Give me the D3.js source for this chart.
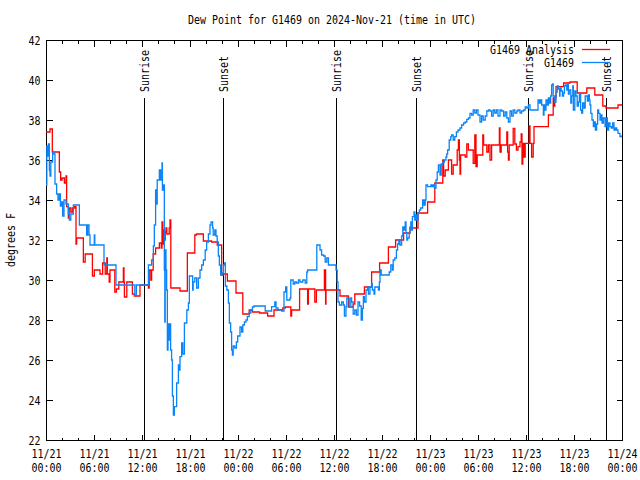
<!DOCTYPE html>
<html><head><meta charset="utf-8">
<script src="https://cdn.jsdelivr.net/npm/d3@7"></script>
<style>html,body{margin:0;padding:0;background:#fff;}</style>
</head><body>
<svg id="chart" width="640" height="480"></svg>
<script>
// ---- data (hours since 2024-11-21 00:00 UTC) ----
const titleText = "Dew Point for G1469 on 2024-Nov-21 (time in UTC)";
const yLabelText = "degrees F";
const yTicks = [22,24,26,28,30,32,34,36,38,40,42];
const seriesNames = ["G1469 Analysis", "G1469"];
const sunEvents = ["Sunrise","Sunset","Sunrise","Sunset","Sunrise","Sunset"];
const sunHours = [12.29, 22.17, 36.25, 46.19, 60.29, 70.05];

const obsHours = [0.0,0.1,0.2,0.3,0.42,0.5,0.6,0.83,1.0,1.125,1.33,1.5,1.67,1.8,1.96,2.08,2.25,2.5,2.67,2.8,2.92,3.1,3.42,4.17,5.08,5.2,5.375,5.5,6.04,6.1,7.25,8.75,11.1,11.3,12.8,13.2,13.42,13.54,13.7,13.85,13.9,14.17,14.33,14.5,14.55,14.7,14.79,14.85,14.9,15.0,15.08,15.17,15.25,15.4,15.5,15.58,15.7,15.8,15.92,16.05,16.33,16.55,16.7,16.75,16.96,17.1,17.3,17.6,17.8,17.92,18.2,18.33,18.4,18.6,18.83,19.04,19.25,19.46,19.67,19.9,20.08,20.3,20.5,20.625,20.83,20.9,21.1,21.25,21.4,21.54,21.67,21.83,22.0,22.17,22.3,22.42,22.6,22.8,22.92,23.08,23.2,23.3,23.4,23.6,23.8,23.96,24.25,24.45,24.6,24.8,25.0,25.17,25.4,25.6,25.8,26.0,27.4,28.2,28.6,28.75,29.0,29.46,29.75,29.96,30.1,30.5,30.6,30.9,31.1,31.3,31.55,31.75,32.1,32.4,32.6,32.7,33.85,34.25,34.45,34.7,34.9,35.1,35.3,36.25,36.4,36.5,36.67,36.96,37.17,37.3,37.5,37.6,37.9,38.1,38.2,38.4,38.6,38.8,39.0,39.2,39.4,39.55,39.67,39.8,40.0,40.2,40.3,40.5,40.7,40.8,41.0,41.1,41.55,41.67,41.75,41.9,42.8,42.9,43.1,43.3,43.4,43.6,43.8,43.95,44.1,44.25,44.45,44.6,44.75,44.9,45.0,45.1,45.2,45.4,45.5,45.6,45.7,45.8,46.0,46.1,46.25,46.4,46.5,46.67,46.83,47.08,47.25,47.4,47.5,47.7,48.1,48.25,48.4,48.55,48.75,48.9,49.05,49.25,49.4,49.6,49.8,50.0,50.1,50.2,50.4,50.6,50.7,50.9,51.1,51.3,51.5,51.75,51.95,52.2,52.4,52.6,52.8,53.0,53.2,53.4,53.6,53.8,54.0,54.25,54.45,54.65,54.9,55.1,55.3,55.5,55.7,55.9,56.1,56.3,56.5,56.75,56.95,57.2,57.4,57.6,57.8,58.0,58.2,58.4,58.6,58.85,59.0,59.25,59.45,59.7,59.9,60.1,60.3,60.5,61.4,61.5,61.67,61.83,61.96,62.17,62.25,62.4,62.5,62.67,62.8,62.92,63.08,63.2,63.33,63.4,63.6,63.75,63.9,64.05,64.2,64.25,64.4,64.55,64.7,64.8,64.96,65.1,65.2,65.3,65.4,65.6,65.7,65.85,65.92,66.1,66.25,66.4,66.55,66.67,66.83,66.96,67.08,67.25,67.4,67.67,67.8,67.92,68.0,68.1,68.25,68.42,68.55,68.67,68.83,68.96,69.08,69.25,69.38,69.5,69.67,69.88,70.0,70.17,70.33,70.5,70.67,70.83,71.0,71.17,71.33,71.5,71.75,72.0];
const obsDew = [34.75,36.7,36.2,36.8,35.5,35.2,35.9,36.4,36.3,34.8,34.3,34.0,34.3,33.7,33.9,33.2,34.0,33.8,33.8,33.3,33.0,33.3,33.75,32.75,32.25,32.75,32.25,31.75,32.25,31.75,30.75,29.75,29.25,29.75,30.75,31.0,31.7,32.75,34.5,33.8,35.0,35.5,35.0,35.85,34.5,34.75,30.5,27.9,31.5,30.5,29.5,26.5,27.8,27.0,27.8,26.5,26.0,24.2,23.25,23.67,24.85,25.75,25.5,26.17,26.85,26.3,27.85,28.5,28.85,30.2,30.2,29.5,29.9,30.1,29.6,30.1,30.5,30.75,31.0,31.5,31.9,32.3,32.75,32.9,32.6,32.25,32.5,32.2,31.9,31.2,30.75,30.25,30.35,30.75,30.85,29.7,29.5,28.85,27.85,27.4,26.5,26.25,26.7,26.6,26.9,27.2,27.65,27.4,27.75,27.9,28.0,28.17,28.35,28.5,28.65,28.7,28.45,28.67,28.9,28.6,28.5,28.45,29.4,29.65,29.0,29.1,30.0,29.8,29.9,29.85,30.0,29.9,30.0,29.85,30.4,30.5,31.75,31.5,31.25,31.2,30.9,31.1,30.75,30.5,29.9,28.9,28.75,28.9,28.75,28.2,28.67,29.1,28.67,29.1,28.9,28.3,28.5,28.25,28.9,28.7,28.0,28.58,29.17,28.9,29.5,29.65,29.3,29.65,29.83,29.5,29.3,29.65,29.5,29.9,30.5,30.25,30.25,30.4,30.75,30.5,31.0,31.1,31.5,31.8,32.0,31.75,32.2,32.65,32.5,32.9,32.35,32.0,32.1,32.35,32.65,32.9,32.5,33.17,33.4,33.0,33.25,33.0,33.35,33.5,33.6,34.0,33.75,34.0,34.75,34.67,34.75,34.67,34.75,34.6,35.0,35.4,35.75,35.25,35.8,35.9,36.0,36.15,36.3,36.5,37.0,37.17,37.25,37.0,37.17,37.4,37.5,37.6,37.75,37.85,37.9,38.03,38.1,38.33,38.25,38.5,38.35,38.5,38.25,37.9,38.2,38.0,38.2,38.45,38.5,38.45,38.2,38.5,38.35,38.5,38.2,38.5,38.45,38.2,38.4,38.1,37.9,38.45,38.2,38.5,38.35,38.45,38.5,38.35,38.45,38.5,38.65,38.6,38.75,38.5,38.5,39.0,38.85,39.0,38.75,38.25,38.75,38.5,39.0,38.75,39.1,38.85,39.2,39.75,39.8,39.2,38.9,39.4,39.7,39.55,39.2,39.6,39.45,39.2,39.35,39.7,39.75,39.5,39.8,39.3,39.5,38.85,39.2,39.7,38.5,39.45,39.2,38.7,38.9,39.3,38.5,38.35,38.85,38.6,39.2,38.95,39.25,39.0,38.75,38.33,38.0,37.67,37.9,37.5,37.8,38.5,38.33,38.0,38.25,37.85,38.1,37.67,38.1,37.5,37.85,37.67,37.6,37.85,37.5,37.6,37.5,37.33,37.17,37.25];

const anaHours = [0.0,0.5,0.79,1.67,1.83,2.0,2.3,2.5,2.58,2.79,2.9,3.1,3.3,3.6,3.75,3.83,4.67,4.9,5.8,6.04,6.75,7.08,7.4,7.6,7.67,7.9,8.0,8.6,8.8,9.1,9.67,9.75,9.8,10.1,10.8,11.04,11.75,12.8,12.9,13.1,13.2,13.4,13.7,14.17,14.4,14.5,14.6,14.7,14.8,14.9,15.0,15.1,15.4,15.5,15.6,16.75,17.67,18.6,18.8,19.67,20.7,21.4,21.96,22.17,22.67,23.75,24.6,25.4,25.8,26.7,27.7,28.5,29.6,29.9,30.6,30.7,31.7,32.7,32.8,33.6,33.8,34.8,34.95,35.0,36.4,36.75,37.8,38.4,38.6,39.8,40.7,41.7,42.8,43.7,44.7,45.5,46.5,47.7,48.6,49.6,49.7,49.9,50.3,50.7,50.9,51.4,51.55,51.67,51.75,51.83,52.4,52.6,52.8,53.4,53.6,53.75,53.9,54.6,54.7,55.1,55.3,55.5,55.7,56.67,56.75,56.9,57.6,57.7,57.8,57.9,58.4,58.6,58.8,59.0,59.25,59.4,59.5,59.6,59.75,59.9,60.4,60.5,60.7,60.9,61.0,62.8,63.4,63.5,63.6,63.75,64.7,65.5,66.4,67.6,68.6,69.6,70.0,71.5,72.0];
const anaDew = [37.4,37.55,36.4,35.4,35.0,35.1,34.85,35.2,33.67,33.1,33.6,33.4,33.6,33.67,31.8,32.1,30.9,31.3,30.2,30.5,30.3,30.85,30.3,31.1,30.3,29.9,30.5,29.4,29.55,29.9,30.6,29.9,29.15,29.9,29.3,29.2,29.75,29.6,30.5,30.0,30.5,31.3,31.6,31.85,31.6,32.9,31.8,32.5,32.0,32.4,32.6,32.3,32.6,33.0,29.6,29.45,31.35,32.25,32.3,31.95,31.9,31.75,30.25,30.3,29.95,29.35,28.3,28.5,28.4,28.35,28.2,28.5,28.6,28.65,28.2,28.5,29.55,28.8,29.55,28.9,29.5,30.5,28.8,29.5,29.5,29.2,28.65,28.8,29.3,29.65,30.4,30.85,31.65,32.0,32.35,32.6,33.35,33.9,34.85,36.0,35.2,35.5,36.0,35.3,35.75,36.5,37.0,36.0,35.3,36.25,36.15,36.8,36.5,35.83,37.25,35.67,36.25,37.25,36.75,36.4,36.75,36.0,36.75,37.6,36.4,36.75,37.4,36.4,36.0,36.75,37.58,36.8,36.5,36.67,36.9,37.3,35.8,36.83,36.15,36.83,37.7,36.83,36.15,36.83,37.67,38.25,39.1,38.7,39.1,39.67,39.85,39.9,39.35,39.6,39.25,38.7,38.6,38.75,38.75];

const colors = {analysis: "#ff0000", obs: "#0a84f8"};

// ---- layout ----
const W = 640, H = 480;
const m = {left: 46, right: 622, top: 40, bottom: 440};
const base = Date.UTC(2024, 10, 21);
const toDate = h => new Date(base + h * 3600e3);

const svg = d3.select("#chart");
const FONT = "DejaVu Sans Mono";
function styleText(sel) {
  sel.attr("font-family", FONT).attr("font-size", 12).attr("fill", "#000")
     .each(function() {
       const t = d3.select(this); const s = this.textContent;
       if (s && s.length) t.attr("textLength", s.length * 6).attr("lengthAdjust", "spacingAndGlyphs");
     });
}

const x = d3.scaleUtc().domain([toDate(0), toDate(72)]).range([m.left, m.right]);
const y = d3.scaleLinear().domain([22, 42]).range([m.bottom, m.top]);

const majorTicks = x.ticks(d3.utcHour.every(6));
const minorTicks = x.ticks(d3.utcHour.every(2)).filter(d => d.getUTCHours() % 6 !== 0);

// frame
svg.append("rect").attr("x", m.left + 0.5).attr("y", m.top + 0.5)
  .attr("width", m.right - m.left).attr("height", m.bottom - m.top)
  .attr("fill", "none").attr("stroke", "#000").attr("stroke-width", 1);

function tickAxis(axis, tx, ty) {
  const g = svg.append("g").attr("transform", `translate(${tx},${ty})`).call(axis);
  g.select(".domain").remove();
  g.selectAll("line").attr("stroke", "#000").attr("shape-rendering", "crispEdges");
  return g;
}
// bottom axis
const gB = tickAxis(d3.axisBottom(x).tickValues(majorTicks).tickSizeInner(-6).tickSizeOuter(0).tickPadding(0), 0, m.bottom + 0.5);
gB.selectAll("text").each(function(d) {
  const t = d3.select(this).text(null).attr("dy", null).attr("y", null);
  t.append("tspan").attr("x", 0).attr("y", 17).text(d3.utcFormat("%m/%d")(d));
  t.append("tspan").attr("x", 0).attr("y", 31).text(d3.utcFormat("%H:%M")(d));
});
gB.selectAll("tspan").each(function() {
  d3.select(this).attr("font-family", FONT).attr("font-size", 12)
    .attr("textLength", this.textContent.length * 6).attr("lengthAdjust", "spacingAndGlyphs");
});
gB.selectAll("text").attr("fill", "#000");
tickAxis(d3.axisBottom(x).tickValues(minorTicks).tickSizeInner(-3).tickSizeOuter(0).tickFormat(""), 0, m.bottom + 0.5);
// top axis
tickAxis(d3.axisTop(x).tickValues(majorTicks).tickSizeInner(-6).tickSizeOuter(0).tickFormat(""), 0, m.top + 0.5);
tickAxis(d3.axisTop(x).tickValues(minorTicks).tickSizeInner(-3).tickSizeOuter(0).tickFormat(""), 0, m.top + 0.5);
// left axis
const gL = tickAxis(d3.axisLeft(y).tickValues(yTicks).tickFormat(d3.format("d")).tickSizeInner(-6).tickSizeOuter(0).tickPadding(6), m.left + 0.5, 0);
gL.selectAll("text").attr("dy", null).attr("y", 4.4).call(styleText);
// right axis
tickAxis(d3.axisRight(y).tickValues(yTicks).tickSizeInner(-6).tickSizeOuter(0).tickFormat(""), m.right + 0.5, 0);

// title & y label
svg.append("text").attr("x", 332).attr("y", 24).attr("text-anchor", "middle").text(titleText).call(styleText);
svg.append("text").attr("transform", "translate(14.5,240) rotate(-90)").attr("text-anchor", "middle").text(yLabelText).call(styleText);

// sunrise / sunset markers
const sunG = svg.append("g");
sunHours.forEach((h, i) => {
  const px = Math.round(x(toDate(h))) + 0.5;
  sunG.append("line").attr("x1", px).attr("x2", px).attr("y1", 98).attr("y2", m.bottom)
    .attr("stroke", "#000").attr("stroke-width", 1);
  sunG.append("text").attr("transform", `translate(${px + 4.5},92) rotate(-90)`)
    .attr("text-anchor", "start").text(sunEvents[i]).call(styleText);
});

// clip
svg.append("clipPath").attr("id", "clip").append("rect")
  .attr("x", m.left).attr("y", m.top).attr("width", m.right - m.left).attr("height", m.bottom - m.top);

const line = d3.line().x(d => x(toDate(d[0]))).y(d => y(d[1])).curve(d3.curveStepAfter);
const anaData = anaHours.map((h, i) => [h, anaDew[i]]);
const obsData = obsHours.map((h, i) => [h, obsDew[i]]);

svg.append("path").datum(anaData).attr("clip-path", "url(#clip)").attr("d", line)
  .attr("fill", "none").attr("stroke", colors.analysis).attr("stroke-width", 1.3);
svg.append("path").datum(obsData).attr("clip-path", "url(#clip)").attr("d", line)
  .attr("fill", "none").attr("stroke", colors.obs).attr("stroke-width", 1.3);

// legend
const legY = [49.5, 62.5];
const legColors = [colors.analysis, colors.obs];
seriesNames.forEach((name, i) => {
  svg.append("text").attr("x", 574).attr("y", legY[i] + 4.4).attr("text-anchor", "end").text(name).call(styleText);
  svg.append("line").attr("x1", 582).attr("x2", 610).attr("y1", legY[i]).attr("y2", legY[i])
    .attr("stroke", legColors[i]).attr("stroke-width", 1.3);
});
</script>
</body></html>
